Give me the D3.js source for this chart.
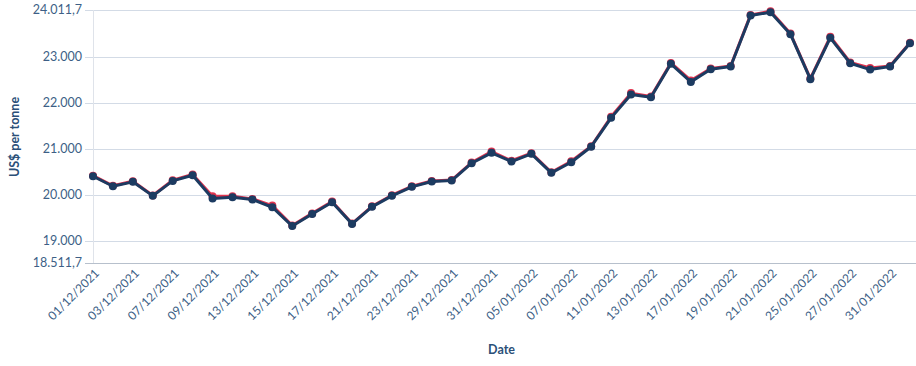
<!DOCTYPE html>
<html>
<head>
<meta charset="utf-8">
<script src="https://cdn.jsdelivr.net/npm/d3@7"></script>
<style>
  body { margin: 0; background: #fff; }
  svg { display: block; font-family: Lato, "Open Sans", sans-serif; }
</style>
</head>
<body>
<svg id="chart" width="916" height="366"></svg>
<script>
// trading days, Dec 2021 - Feb 2022
var dates = ["01/12/2021", "02/12/2021", "03/12/2021", "06/12/2021", "07/12/2021", "08/12/2021",
    "09/12/2021", "10/12/2021", "13/12/2021", "14/12/2021", "15/12/2021", "16/12/2021",
    "17/12/2021", "20/12/2021", "21/12/2021", "22/12/2021", "23/12/2021", "24/12/2021",
    "29/12/2021", "30/12/2021", "31/12/2021", "04/01/2022", "05/01/2022", "06/01/2022",
    "07/01/2022", "10/01/2022", "11/01/2022", "12/01/2022", "13/01/2022", "14/01/2022",
    "17/01/2022", "18/01/2022", "19/01/2022", "20/01/2022", "21/01/2022", "24/01/2022",
    "25/01/2022", "26/01/2022", "27/01/2022", "28/01/2022", "31/01/2022", "01/02/2022"];

// navy series (front)
var seriesA = [20398, 20180, 20276, 19971, 20297, 20420, 19913, 19942, 19891, 19724, 19315, 19575,
    19833, 19362, 19732, 19971, 20167, 20283, 20304, 20681, 20906, 20717, 20884, 20471,
    20703, 21040, 21667, 22174, 22116, 22841, 22449, 22725, 22783, 23891, 23963, 23485,
    22507, 23406, 22855, 22717, 22783, 23290];

// red series (behind)
var seriesB = [20410, 20190, 20290, 19980, 20310, 20435, 19965, 19965, 19905, 19760, 19325, 19590,
    19850, 19370, 19745, 19985, 20180, 20295, 20315, 20695, 20935, 20735, 20900, 20485,
    20725, 21050, 21690, 22205, 22130, 22860, 22480, 22740, 22795, 23905, 23985, 23500,
    22520, 23430, 22870, 22750, 22795, 23300];

var yMin = 18511.7, yMax = 24011.7;
var yTicks = [19000, 20000, 21000, 22000, 23000];

var svg = d3.select("#chart");
var plotLeft = 93, plotRight = 910, plotTop = 10, plotBottom = 263;

var de = d3.formatLocale({ decimal: ",", thousands: ".", grouping: [3], currency: ["", ""] });
var fmtInt = de.format(",.0f"), fmtDec = de.format(",.1f");

var x = d3.scalePoint().domain(dates).range([plotLeft, plotRight]);
var y = d3.scaleLinear().domain([yMin, yMax]).range([plotBottom, plotTop]);

var labelColor = "#3d5f86";

// horizontal grid
svg.append("g")
    .selectAll("line")
    .data(yTicks.concat([yMax]))
    .enter().append("line")
    .attr("x1", 85).attr("x2", 916)
    .attr("y1", function (d) { return Math.round(y(d)) + 0.5; })
    .attr("y2", function (d) { return Math.round(y(d)) + 0.5; })
    .attr("stroke", "#d3dbe6").attr("stroke-width", 1);

// left vertical grid line
svg.append("line")
    .attr("x1", plotLeft + 0.5).attr("x2", plotLeft + 0.5)
    .attr("y1", plotTop).attr("y2", plotBottom)
    .attr("stroke", "#dfe3ea");

// bottom axis line
svg.append("line")
    .attr("x1", 85).attr("x2", 916)
    .attr("y1", Math.round(y(yMin)) + 0.5).attr("y2", Math.round(y(yMin)) + 0.5)
    .attr("stroke", "#b7c0cc").attr("stroke-width", 1);

// y tick labels
var yLabels = yTicks.map(function (v) { return { v: v, t: fmtInt(v) }; });
yLabels.push({ v: yMin, t: fmtDec(yMin) });
yLabels.push({ v: yMax, t: fmtDec(yMax) });
svg.append("g")
    .selectAll("text")
    .data(yLabels)
    .enter().append("text")
    .attr("x", 82)
    .attr("y", function (d) { return y(d.v); })
    .attr("dy", "0.35em")
    .attr("text-anchor", "end")
    .attr("fill", labelColor)
    .style("font-size", "12.5px")
    .text(function (d) { return d.t; });

// x tick labels, every other date
svg.append("g")
    .selectAll("text")
    .data(dates.filter(function (d, i) { return i % 2 == 0 && i < dates.length - 1; }))
    .enter().append("text")
    .attr("transform", function (d) { return "translate(" + (x(d) + 7) + "," + 274 + ") rotate(-45)"; })
    .attr("text-anchor", "end")
    .attr("fill", labelColor)
    .style("font-size", "12px")
    .text(function (d) { return d; });

// axis titles
svg.append("text")
    .attr("transform", "translate(19," + 137 + ") rotate(-90)")
    .attr("text-anchor", "middle")
    .attr("fill", "#2b4f78")
    .style("font-size", "12.5px")
    .style("font-weight", "bold")
    .text("US$ per tonne");

svg.append("text")
    .attr("x", (plotLeft + plotRight) / 2)
    .attr("y", 354)
    .attr("text-anchor", "middle")
    .attr("fill", "#2b4f78")
    .style("font-size", "12.5px")
    .style("font-weight", "bold")
    .text("Date");

// series
var line = d3.line()
    .x(function (d, i) { return x(dates[i]); })
    .y(function (d) { return y(d); });

function drawSeries(values, color) {
    var g = svg.append("g");
    g.append("path")
        .datum(values)
        .attr("d", line)
        .attr("fill", "none")
        .attr("stroke", color)
        .attr("stroke-width", 3)
        .attr("stroke-linejoin", "round");
    g.selectAll("circle")
        .data(values)
        .enter().append("circle")
        .attr("cx", function (d, i) { return x(dates[i]); })
        .attr("cy", function (d) { return y(d); })
        .attr("r", 4)
        .attr("fill", color);
}

drawSeries(seriesB, "#e0344f");
drawSeries(seriesA, "#1c3b61");
</script>
</body>
</html>
